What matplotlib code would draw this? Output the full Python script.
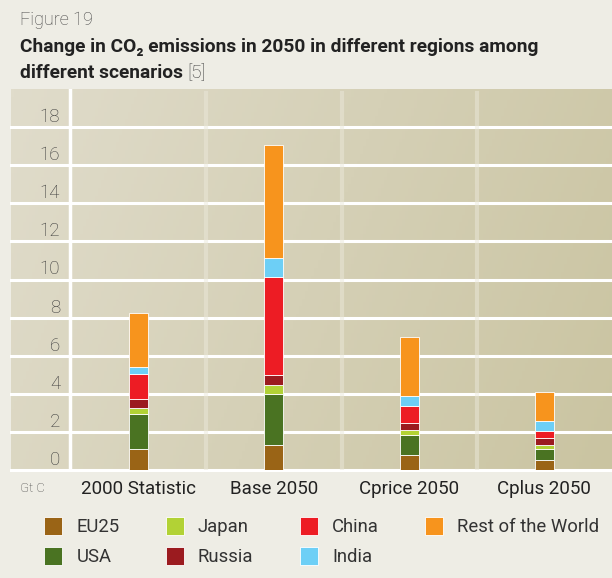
import matplotlib
matplotlib.use("Agg")
import matplotlib.pyplot as plt
import matplotlib.transforms as mtransforms
from matplotlib import font_manager
from matplotlib.colors import LinearSegmentedColormap
import numpy as np

scenarios = ["2000 Statistic", "Base 2050", "Cprice 2050", "Cplus 2050"]
regions = ["EU25", "USA", "Japan", "Russia", "China", "India", "Rest of the World"]
eu25 = [1.12, 1.30, 0.77, 0.51]
usa = [1.82, 2.69, 1.08, 0.61]
japan = [0.33, 0.46, 0.27, 0.19]
russia = [0.46, 0.54, 0.36, 0.35]
china = [1.33, 5.12, 0.90, 0.40]
india = [0.36, 1.00, 0.52, 0.50]
rest_world = [2.82, 5.95, 3.08, 1.55]
y_ticks = [0, 2, 4, 6, 8, 10, 12, 14, 16, 18]

colors = ["#9a6416", "#4a7322", "#b2d235", "#9b1b1f", "#ed1c24", "#6dcff6", "#f7941d"]

installed = {f.name for f in font_manager.fontManager.ttflist}
main_font = "Liberation Sans Narrow" if "Liberation Sans Narrow" in installed else "Roboto"
plt.rcParams["font.family"] = [main_font, "DejaVu Sans"]

W, H = 612, 578
def box(x0, y0, x1, y1):
    return [x0 / W, 1 - y1 / H, (x1 - x0) / W, (y1 - y0) / H]

fig = plt.figure(figsize=(W / 100, H / 100), dpi=100, facecolor="#eeede5")

# panel background with soft gradient
ax_bg = fig.add_axes(box(11, 89, 612, 470))
gx, gy = np.meshgrid(np.linspace(0, 1, 200), np.linspace(0, 1, 100))
grad = 0.8 * gx + 0.2 * gy
cmap = LinearSegmentedColormap.from_list("bg", ["#e0dccb", "#cac4a1"])
ax_bg.imshow(grad, cmap=cmap, extent=[0, 1, 0, 20], aspect="auto", origin="upper", zorder=0)
ax_bg.set_xlim(0, 1)
ax_bg.set_ylim(0, 20)
ax_bg.axis("off")
for v in y_ticks:
    ax_bg.axhline(v, color="white", lw=2.2, clip_on=False, zorder=1)
ax_bg.axvline((69.5 - 11) / 601, color="white", lw=2.5, zorder=1)

lift = mtransforms.ScaledTranslation(0, 5 / 100, fig.dpi_scale_trans)
for v in y_ticks:
    ax_bg.text((60 - 11) / 601, v, str(v), ha="right", va="baseline", fontsize=13.5,
               fontweight="light", color="#3a3a3a",
               transform=ax_bg.get_yaxis_transform() + lift, zorder=2)

# bars
ax = fig.add_axes(box(71, 89, 612, 470))
ax.patch.set_alpha(0)
x = np.arange(len(scenarios))
for i in range(len(scenarios) - 1):
    ax.axvline(i + 0.5, color="#ebe8da", alpha=0.5, lw=3, ymax=0.99, zorder=1)

series = [eu25, usa, japan, russia, china, india, rest_world]
bottom = np.zeros(len(scenarios))
for name, vals, c in zip(regions, series, colors):
    ax.bar(x, vals, 0.14, bottom=bottom, color=c, edgecolor="white", lw=0.6, label=name, zorder=3)
    bottom += np.array(vals)

ax.set_xlim(-0.5, 3.5)
ax.set_ylim(0, 20)
for s in ax.spines.values():
    s.set_visible(False)
ax.set_yticks([])
ax.set_xticks(x)
ax.set_xticklabels(scenarios, fontsize=13.5, color="#222222")
ax.tick_params(axis="x", length=0, pad=7)

fig.text(20 / W, 1 - 488 / H, "Gt C", fontsize=9.5, fontweight="light", color="#444444", va="center")

# titles
fig.text(20 / W, 1 - 20 / H, "Figure 19", fontsize=13, fontweight="light", color="#444444", va="center")
fig.text(20 / W, 1 - 47 / H, "Change in CO\u2082 emissions in 2050 in different regions among",
         fontsize=13.8, fontweight="bold", color="#222222", va="center")
t2 = fig.text(20 / W, 1 - 73 / H, "different scenarios", fontsize=13.8, fontweight="bold",
              color="#222222", va="center")
fig.canvas.draw()
bb = t2.get_window_extent()
fig.text((bb.x1 + 4) / W, 1 - 73 / H, "[5]", fontsize=13.8, fontweight="light",
         color="#3a3a3a", va="center")

fig.legend(loc="upper left", bbox_to_anchor=(44 / W, 1 - 517 / H), ncol=4, frameon=False,
           fontsize=13.3, handlelength=1.0, handleheight=1.15, handletextpad=0.75,
           columnspacing=2.5, labelspacing=0.55, borderpad=0, borderaxespad=0,
           labelcolor="#333333")

fig.savefig("out.png", dpi=100, facecolor=fig.get_facecolor())
